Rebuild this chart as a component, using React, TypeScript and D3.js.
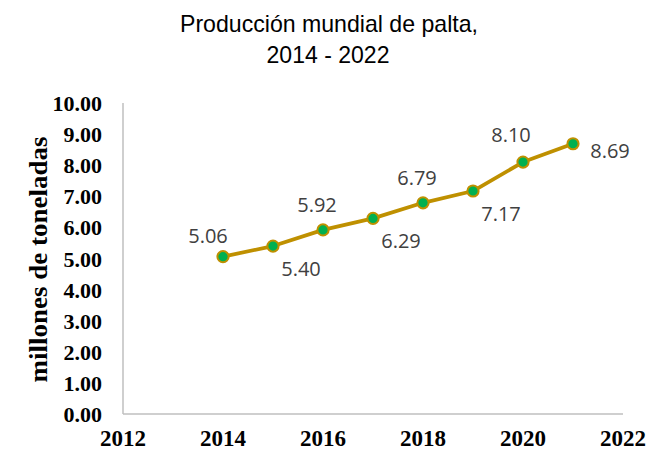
import React from 'react';
import * as d3 from 'd3';

const years = [2014, 2015, 2016, 2017, 2018, 2019, 2020, 2021];
const production = [5.06, 5.4, 5.92, 6.29, 6.79, 7.17, 8.1, 8.69];
// where each data label sits relative to its point
const labelSide = ['above-left', 'below', 'above', 'below', 'above', 'below', 'above-left2', 'right'];
const xTicks = [2012, 2014, 2016, 2018, 2020, 2022];
const yTicks = [0, 1, 2, 3, 4, 5, 6, 7, 8, 9, 10];
const titleLines = ['Producción mundial de palta,', '2014 - 2022'];
const yTitle = 'millones de toneladas';

const W = 648;
const H = 452;
const m = { left: 123, right: 25, top: 103, bottom: 38 };

export default function App() {
  const x = d3.scaleLinear().domain([2012, 2022]).range([m.left, W - m.right]);
  const y = d3.scaleLinear().domain([0, 10]).range([H - m.bottom, m.top]);
  const pts = years.map((yr, i) => ({ yr, v: production[i], side: labelSide[i] }));
  const line = d3.line<{ yr: number; v: number }>().x(d => x(d.yr)).y(d => y(d.v));

  const labelPos = (side: string) => {
    if (side === 'above-left') return { dx: -15, dy: -14 };
    if (side === 'above-left2') return { dx: -12, dy: -20 };
    if (side === 'above') return { dx: -6, dy: -18 };
    if (side === 'below') return { dx: 28, dy: 30 };
    return { dx: 37, dy: 14 };
  };

  return (
    <svg width={W} height={H} style={{ position: 'absolute', left: 0, top: 0, background: '#fff' }}>
      <g fontFamily="'Liberation Sans', Arial, sans-serif" fontSize={24} fill="#000" textAnchor="middle">
        <text x={329} y={32} textLength={298} lengthAdjust="spacingAndGlyphs">{titleLines[0]}</text>
        <text x={328} y={63} textLength={123} lengthAdjust="spacingAndGlyphs">{titleLines[1]}</text>
      </g>

      {/* axes */}
      <line x1={x(2012)} x2={x(2012)} y1={y(10)} y2={y(0)} stroke="#BFBFBF" strokeWidth={1.5} />
      <line x1={x(2012)} x2={x(2022)} y1={y(0)} y2={y(0)} stroke="#BFBFBF" strokeWidth={1.5} />

      <g fontFamily="'Liberation Serif', 'Times New Roman', serif" fontWeight="bold" fill="#000">
        {yTicks.map(t => (
          <text key={t} x={m.left - 21} y={y(t) + 8} textAnchor="end" fontSize={22}>{t.toFixed(2)}</text>
        ))}
        {xTicks.map(t => (
          <text key={t} x={x(t)} y={H - 6} textAnchor="middle" fontSize={23}>{t}</text>
        ))}
        <text transform={`translate(47,${(y(0) + y(10)) / 2 + 1}) rotate(-90)`} textAnchor="middle" fontSize={25}
          textLength={246} lengthAdjust="spacingAndGlyphs">{yTitle}</text>
      </g>

      <path d={line(pts) || ''} fill="none" stroke="#BF9000" strokeWidth={3.75} strokeLinejoin="round" />
      {pts.map(p => (
        <circle key={p.yr} cx={x(p.yr)} cy={y(p.v)} r={5.6} fill="#00B050" stroke="#BF9000" strokeWidth={2} />
      ))}

      <g fontFamily="'Open Sans', 'Liberation Sans', sans-serif" fontSize={20} fill="#404040" textAnchor="middle">
        {pts.map(p => {
          const o = labelPos(p.side);
          return (
            <text key={p.yr} x={x(p.yr) + o.dx} y={y(p.v) + o.dy}>{p.v.toFixed(2)}</text>
          );
        })}
      </g>
    </svg>
  );
}
